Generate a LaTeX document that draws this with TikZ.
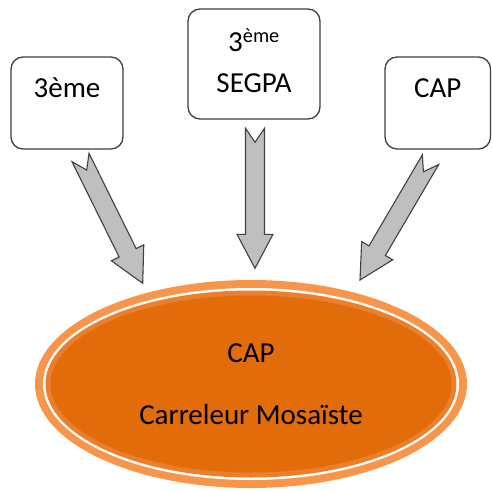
\documentclass[tikz,border=0pt]{standalone}
\usepackage{fontspec}
\setmainfont{Carlito}
\usetikzlibrary{shapes.geometric,calc}
\definecolor{ringorange}{HTML}{F7964A}
\definecolor{bandorange}{HTML}{EC7F2C}
\definecolor{fillorange}{HTML}{E36C0A}
\definecolor{boxline}{HTML}{404040}
\definecolor{arrowgray}{HTML}{BFBFBF}
\newcommand\fatarrow[2]{%
  \path (#2) coordinate (fa-h) ($(#2)!34pt!(#1)$) coordinate (fa-b);
  \draw[fatarr] ($(#1)!9.5pt!90:(#2)$) -- ($(fa-b)!9.5pt!90:(fa-h)$) -- ($(fa-b)!18pt!90:(fa-h)$) -- (fa-h)
    -- ($(fa-b)!18pt!-90:(fa-h)$) -- ($(fa-b)!9.5pt!-90:(fa-h)$) -- ($(#1)!9.5pt!-90:(#2)$)
    -- ($(#1)!14pt!(#2)$) -- cycle;}
\tikzset{
  box/.style={draw=boxline, line width=1.3pt, rounded corners=12pt, fill=white,
    font=\fontsize{29}{35}\selectfont, align=center, inner sep=0pt},
  fatarr/.style={draw=boxline, line width=1.1pt, fill=arrowgray, line join=miter},
}
\begin{document}
\begin{tikzpicture}[x=1pt,y=-1pt]
\useasboundingbox (0,0) rectangle (492,490);
% boxes
\node[box, minimum width=112pt, minimum height=92pt, text height=20pt, text depth=31.4pt] (b1) at (67,103) {3ème};
\node[box, minimum width=132pt, minimum height=110pt, font=\fontsize{29}{41}\selectfont, text depth=7pt] (b2) at (254,64) {3\textsuperscript{ème}\\SEGPA};
\node[box, minimum width=105.5pt, minimum height=92pt, text height=20pt, text depth=31.4pt] (b3) at (437.75,103) {CAP};
% ellipse
\node[ellipse, fill=ringorange, minimum width=432pt, minimum height=208pt, inner sep=0pt,
  align=center, font=\fontsize{29}{62.5}\selectfont,
  path picture={
    \fill[white] (path picture bounding box.center) ellipse [x radius=208pt, y radius=96pt];
    \fill[bandorange] (path picture bounding box.center) ellipse [x radius=205.5pt, y radius=93.5pt];
    \fill[fillorange] (path picture bounding box.center) ellipse [x radius=200.5pt, y radius=88.5pt];
  }] (e) at (251,384) {CAP\\Carreleur Mosaïste};
% arrows
\coordinate (t1) at (80.5,157.5);  \coordinate (h1) at (142.7,283.3);
\coordinate (t2) at (255,128.3);   \coordinate (h2) at (255,268.3);
\coordinate (t3) at (430.5,159.7); \coordinate (h3) at (360,280);
\fatarrow{t1}{h1}
\fatarrow{t2}{h2}
\fatarrow{t3}{h3}
\end{tikzpicture}
\end{document}
